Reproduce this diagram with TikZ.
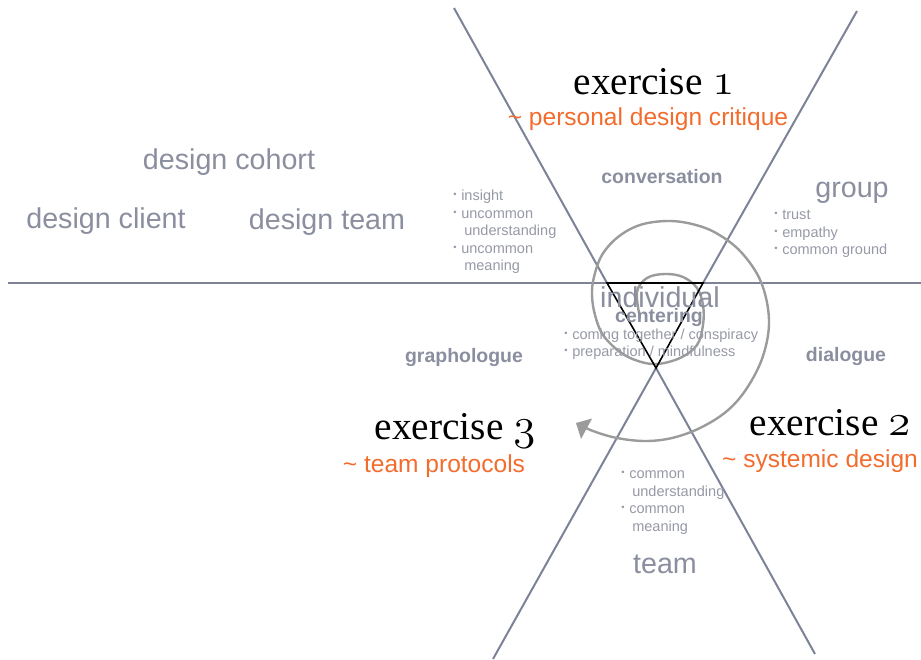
\documentclass[tikz,border=0pt]{standalone}
\usepackage{fontspec}
\usepackage{graphicx}
\setsansfont{Liberation Sans}
\newfontfamily\exfont{Liberation Serif}
\usetikzlibrary{arrows.meta}
\definecolor{axiscol}{RGB}{125,130,150}
\definecolor{lblcol}{RGB}{138,142,158}
\definecolor{lstcol}{RGB}{150,153,166}
\definecolor{orngcol}{RGB}{242,108,45}
\definecolor{spircol}{RGB}{155,155,155}
\newcommand\mybul{\makebox[6pt][l]{\raisebox{0.3ex}{\fontsize{7}{7}\selectfont •}}}
\newcommand\osnum[1]{\scalebox{1.35}{\usefont{OML}{cmm}{m}{it}#1}}
\begin{document}
\begin{tikzpicture}[x=0.75pt,y=-0.75pt,
  big/.style={font=\sffamily\fontsize{21.5}{24}\selectfont, text=lblcol, inner sep=0, anchor=base},
  boldlbl/.style={font=\sffamily\bfseries\fontsize{14.6}{16}\selectfont, text=lblcol, inner sep=0, anchor=base},
  listtxt/.style={font=\sffamily\fontsize{10.9}{12}\selectfont, text=lstcol, inner sep=0, anchor=base west},
  extitle/.style={font=\exfont\fontsize{29.5}{32}\selectfont, text=black, inner sep=0, anchor=base},
  exsub/.style={font=\sffamily\fontsize{18.4}{20}\selectfont, text=orngcol, inner sep=0, anchor=base},
  axis/.style={draw=axiscol, line width=1.5pt},
]
\useasboundingbox (0,0) rectangle (921,660);

% coordinates
\coordinate (hl) at (8,283);
\coordinate (hr) at (921,283);
\coordinate (ul) at (454,8);
\coordinate (ur) at (857,11);
\coordinate (ll) at (493,659);
\coordinate (lr) at (815,654);
\coordinate (tl) at (607,283);
\coordinate (tr) at (703,283);
\coordinate (tb) at (656,368);

% axes
\draw[axis] (hl) -- (hr);
\draw[axis] (ul) -- (tl);
\draw[axis] (ur) -- (tr);
\draw[axis] (tb) -- (ll);
\draw[axis] (tb) -- (lr);

% spiral
\draw[spircol, line width=1.8pt, -{Triangle[length=9pt,width=17pt]}]
  plot[smooth, tension=0.6] coordinates {
  (640,318) (637,292) (647,278) (665,274) (683,277) (697,288) (703,305)
  (703,325) (697,345) (680,358) (657,364) (638,361) (620,352) (603,335)
  (595,315) (592,295) (594,277) (602,255) (618,237) (640,225) (667,221)
  (692,224) (716,233) (741,252) (761,282) (769,320) (763,356) (747,388)
  (727,411) (700,428) (672,438) (645,441) (617,438) (593,431) (576,423)};

% triangle
\draw[black, line width=1.2pt] (tl) -- (tr) -- (tb) -- cycle;

% big labels
\node[big] (cohort) at (229,169) {design cohort};
\node[big] (client) at (106,228) {design client};
\node[big] (dteam) at (327,229) {design team};
\node[big] (group) at (852,197) {group};
\node[big] (indiv) at (660,307) {individual};
\node[big] (team) at (665,573) {team};

% bold labels
\node[boldlbl] (conv) at (662,183) {conversation};
\node[boldlbl] (grapho) at (464,362) {graphologue};
\node[boldlbl] (dial) at (846,361) {dialogue};
\node[boldlbl] (center) at (659,322) {centering};

% exercises
\node[extitle] (ex1) at (654,94) {exercise \osnum{1}};
\node[exsub] (sub1) at (648,126) {\textasciitilde\ personal design critique};
\node[extitle] (ex2) at (830,435) {exercise \osnum{2}};
\node[exsub] (sub2) at (820,467) {\textasciitilde\ systemic design};
\node[extitle] (ex3) at (455,439) {exercise \osnum{3}};
\node[exsub] (sub3) at (434,472) {\textasciitilde\ team protocols};

% lists
\node[listtxt] (l1) at (453,200) {\mybul insight};
\node[listtxt] (l2) at (453,218) {\mybul uncommon};
\node[listtxt] (l3) at (464,235) {understanding};
\node[listtxt] (l4) at (453,253) {\mybul uncommon};
\node[listtxt] (l5) at (464,270) {meaning};

\node[listtxt] (g1) at (774,219) {\mybul trust};
\node[listtxt] (g2) at (774,237) {\mybul empathy};
\node[listtxt] (g3) at (774,254) {\mybul common ground};

\node[listtxt] (c1) at (564,339) {\mybul coming together / conspiracy};
\node[listtxt] (c2) at (564,356) {\mybul preparation / mindfulness};

\node[listtxt] (t1) at (621,478) {\mybul common};
\node[listtxt] (t2) at (632,496) {understanding};
\node[listtxt] (t3) at (621,513) {\mybul common};
\node[listtxt] (t4) at (632,531) {meaning};
\end{tikzpicture}
\end{document}
